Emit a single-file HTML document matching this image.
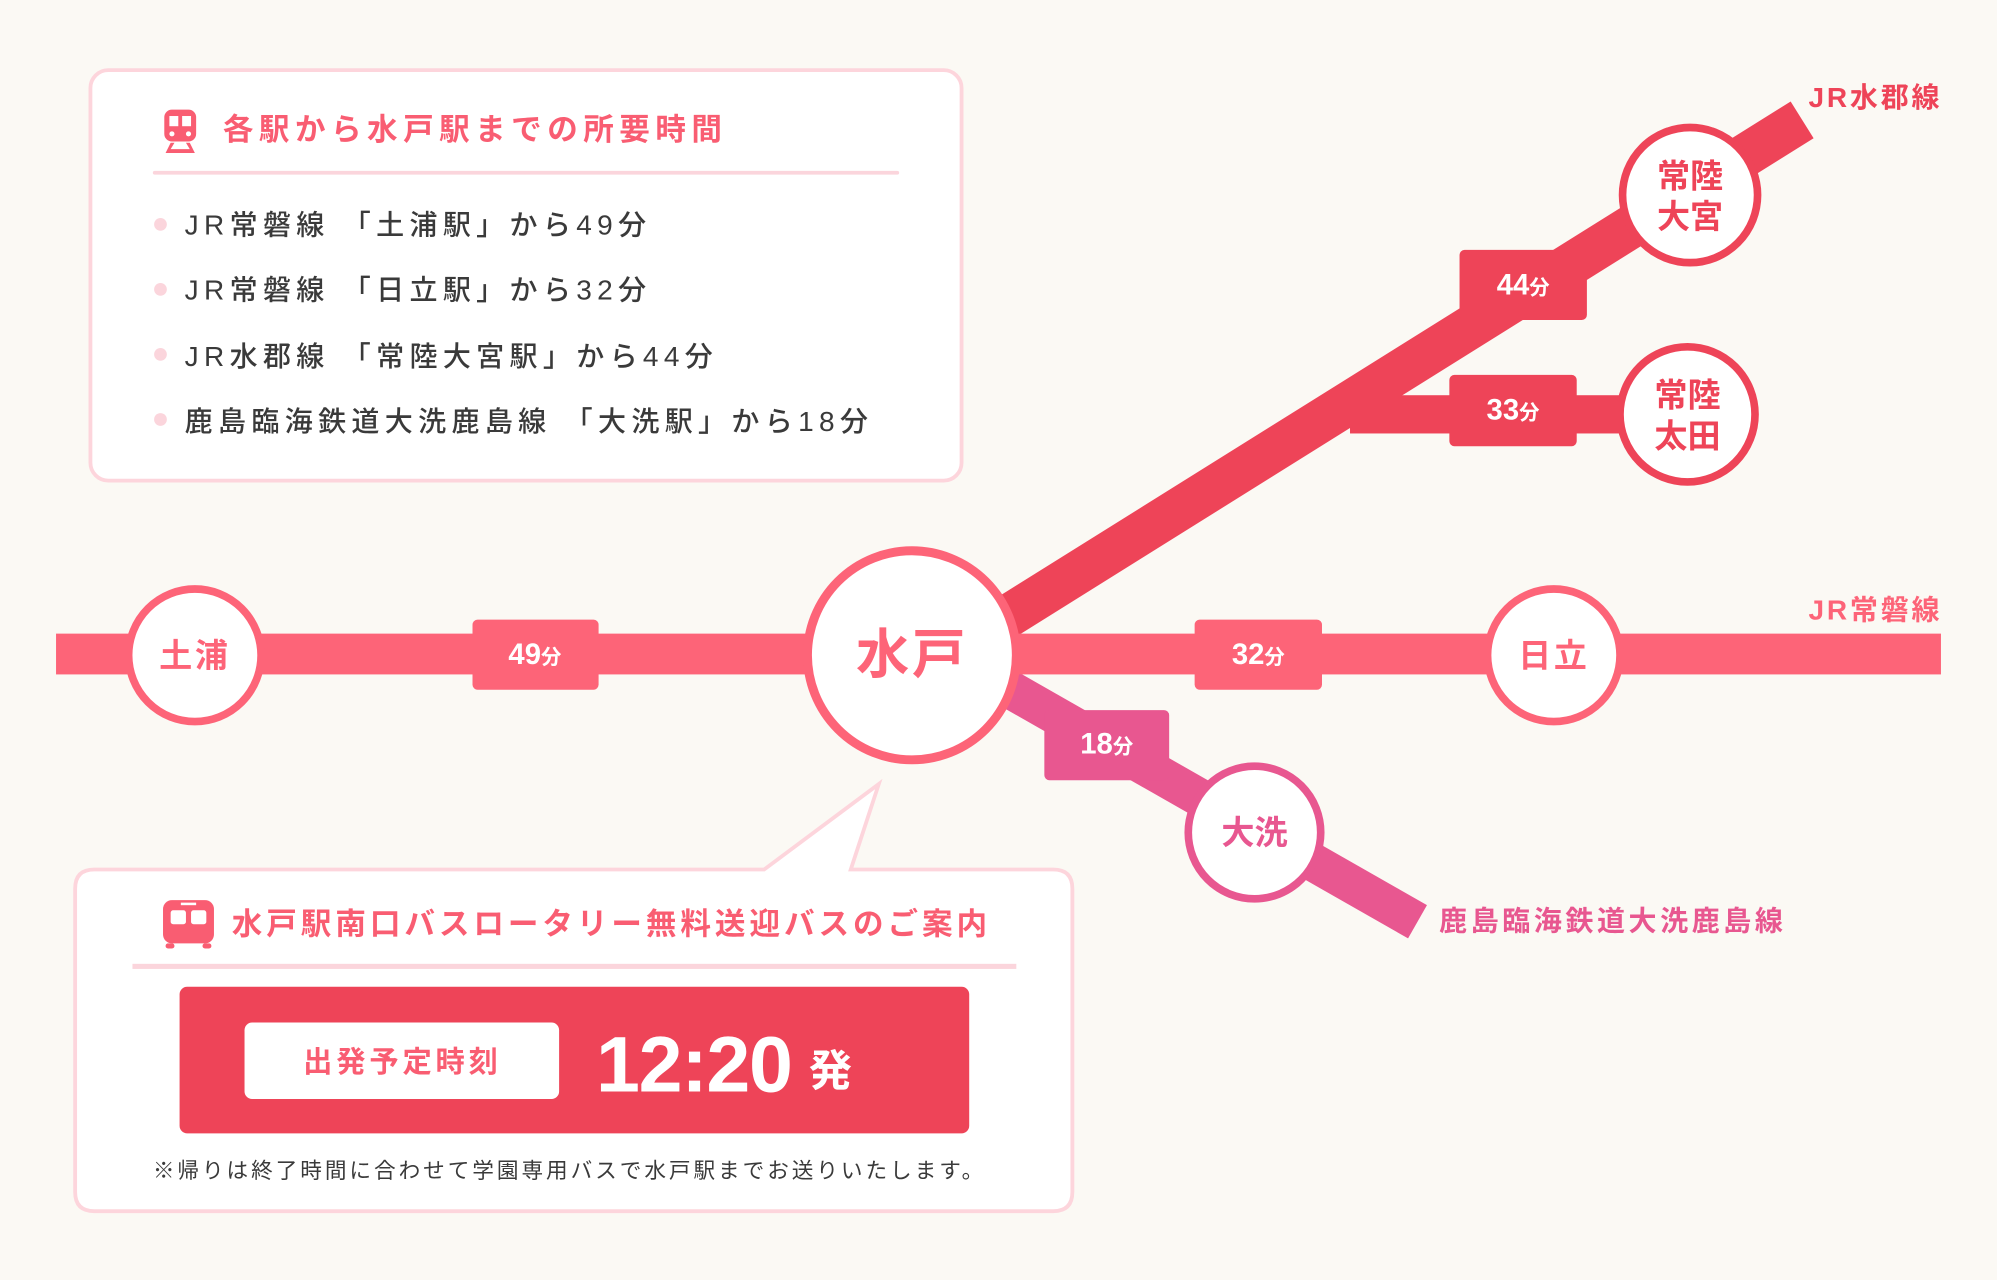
<!DOCTYPE html>
<html><head><meta charset="utf-8"><style>
html,body{margin:0;padding:0;background:#fbf9f4;}
svg{display:block;}
text{font-family:"Liberation Sans","Noto Sans CJK JP",sans-serif;}
</style></head><body>
<svg width="1997" height="1280" viewBox="0 0 1568 1004" preserveAspectRatio="none" xmlns="http://www.w3.org/2000/svg">
<rect x="0" y="0" width="1568" height="1004" rx="16" fill="#fbf9f4"/>

<rect x="71" y="55" width="684" height="322" rx="14" fill="#fff" stroke="#fdd5dc" stroke-width="3"/>
<g fill="#f95d72">
<rect x="129" y="86" width="25" height="25" rx="6"/>
<rect x="133" y="91" width="7" height="8" fill="#fff"/><rect x="143" y="91" width="7" height="8" fill="#fff"/>
<circle cx="135" cy="105" r="2" fill="#fff"/><circle cx="148" cy="105" r="2" fill="#fff"/>
<polygon points="130,120 134,112 137,112 134,117 149,117 146,112 149,112 153,120"/>
</g>
<text x="175" y="110" font-size="24" font-weight="700" fill="#f95d72" letter-spacing="4.3">各駅から水戸駅までの所要時間</text>
<rect x="120" y="134" width="586" height="3" rx="1.5" fill="#fbd5dc"/>
<g fill="#fbd5dc"><circle cx="126" cy="176" r="5"/><circle cx="126" cy="227" r="5"/><circle cx="126" cy="278" r="5"/><circle cx="126" cy="329" r="5"/></g>
<g font-size="22" fill="#3a3a3a" font-weight="500" letter-spacing="4.2">
<text x="145" y="184">JR常磐線 「土浦駅」から49分</text>
<text x="145" y="235">JR常磐線 「日立駅」から32分</text>
<text x="145" y="287">JR水郡線 「常陸大宮駅」から44分</text>
<text x="145" y="338">鹿島臨海鉄道大洗鹿島線 「大洗駅」から18分</text>
</g>

<rect x="1060" y="310" width="230" height="30" fill="#ee4458"/>
<line x1="760" y1="503" x2="1415" y2="94" stroke="#ee4458" stroke-width="34"/>
<line x1="760" y1="522" x2="1113" y2="723" stroke="#e85790" stroke-width="30"/>
<rect x="44" y="497" width="1480" height="32" fill="#fd6478"/>

<rect x="371" y="486" width="99" height="55" rx="4" fill="#fd6478"/>
<rect x="938" y="486" width="100" height="55" rx="4" fill="#fd6478"/>
<rect x="1146" y="196" width="100" height="55" rx="4" fill="#ee4458"/>
<rect x="1138" y="294" width="100" height="56" rx="4" fill="#ee4458"/>
<rect x="820" y="557" width="98" height="55" rx="4" fill="#e85790"/>
<g fill="#fff" font-weight="700" text-anchor="middle">
<text x="420" y="521" font-size="23">49<tspan font-size="16">分</tspan></text>
<text x="988" y="521" font-size="23">32<tspan font-size="16">分</tspan></text>
<text x="1196" y="231" font-size="23">44<tspan font-size="16">分</tspan></text>
<text x="1188" y="329" font-size="23">33<tspan font-size="16">分</tspan></text>
<text x="869" y="591" font-size="23">18<tspan font-size="16">分</tspan></text>
</g>

<g fill="#fff" stroke-width="6">
<circle cx="153" cy="514" r="52" stroke="#fd6478"/>
<circle cx="1220" cy="514" r="52" stroke="#fd6478"/>
<circle cx="716" cy="514" r="82" stroke="#fd6478" stroke-width="7"/>
<circle cx="1327" cy="153" r="53" stroke="#ee4458"/>
<circle cx="1325" cy="325" r="53" stroke="#ee4458"/>
<circle cx="985" cy="653" r="52" stroke="#e85790"/>
</g>
<g font-weight="700" text-anchor="middle" font-size="26">
<text x="153" y="523" fill="#fd6478" letter-spacing="2">土浦</text>
<text x="1220" y="523" fill="#fd6478" letter-spacing="2">日立</text>
<text x="716" y="528" font-size="42" fill="#fd6478" letter-spacing="2">水戸</text>
<text x="1327" y="147" fill="#ee4458">常陸</text>
<text x="1327" y="179" fill="#ee4458">大宮</text>
<text x="1325" y="319" fill="#ee4458">常陸</text>
<text x="1325" y="351" fill="#ee4458">太田</text>
<text x="985" y="662" fill="#e85790">大洗</text>
</g>
<g font-weight="700" font-size="22">
<text x="1420" y="84" fill="#ee4458" letter-spacing="2.2">JR水郡線</text>
<text x="1420" y="486" fill="#fd6478" letter-spacing="2.2">JR常磐線</text>
<text x="1130" y="730" fill="#e85790" letter-spacing="2.8">鹿島臨海鉄道大洗鹿島線</text>
</g>

<path d="M74,682 H600 L690,615 L668,682 H827 Q842,682 842,697 V935 Q842,950 827,950 H74 Q59,950 59,935 V697 Q59,682 74,682 Z" fill="#fff" stroke="#fdd5dc" stroke-width="3"/>
<g fill="#f95d72">
<rect x="128" y="706" width="40" height="34" rx="7"/>
<rect x="130" y="740" width="7" height="4" rx="2"/><rect x="159" y="740" width="7" height="4" rx="2"/>
<rect x="134" y="714" width="12" height="11" rx="2" fill="#fff"/><rect x="150" y="714" width="12" height="11" rx="2" fill="#fff"/>
<rect x="142" y="708" width="12" height="2" fill="#fff"/>
</g>
<text x="182" y="733" font-size="24" font-weight="700" fill="#f95d72" letter-spacing="3.1">水戸駅南口バスロータリー無料送迎バスのご案内</text>
<rect x="104" y="756" width="694" height="4" fill="#fbd5dc"/>
<rect x="141" y="774" width="620" height="115" rx="6" fill="#ee4458"/>
<rect x="192" y="802" width="247" height="60" rx="6" fill="#fff"/>
<text x="316" y="841" font-size="23" font-weight="700" fill="#f95d72" text-anchor="middle" letter-spacing="3">出発予定時刻</text>
<text x="468" y="856" font-size="62" font-weight="700" fill="#fff" letter-spacing="-1">12:20</text>
<text x="635" y="852" font-size="34" font-weight="700" fill="#fff">発</text>
<text x="120" y="924" font-size="17" fill="#3a3a3a" letter-spacing="2.3">※帰りは終了時間に合わせて学園専用バスで水戸駅までお送りいたします。</text>
</svg>
</body></html>
